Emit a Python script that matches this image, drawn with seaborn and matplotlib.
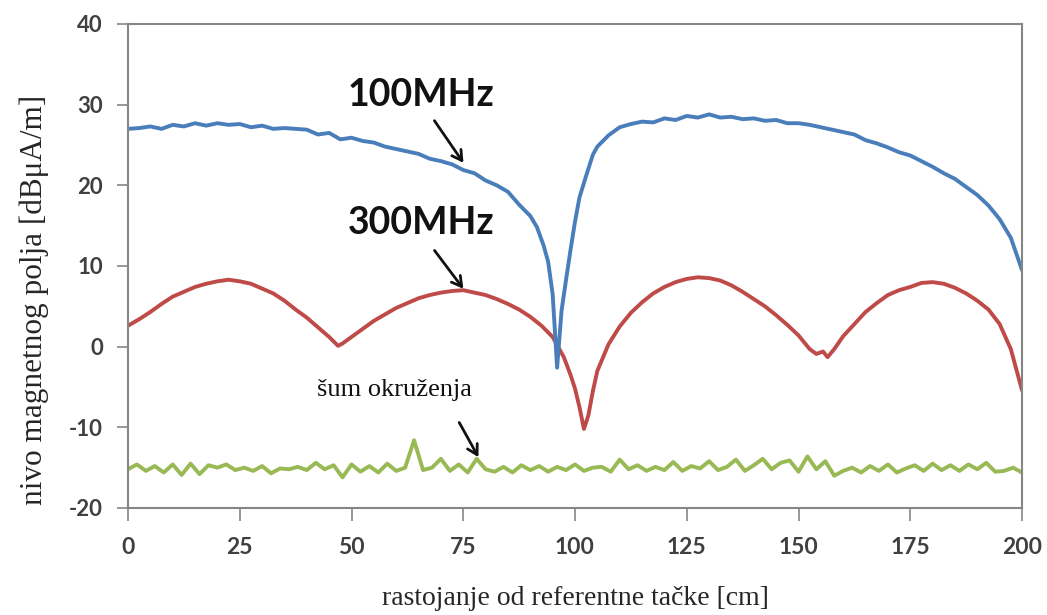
import numpy as np
import pandas as pd
import matplotlib
matplotlib.use("Agg")
import matplotlib.pyplot as plt
import seaborn as sns

# ---------------- data ----------------
blue_x = [0, 2.5, 5, 7.5, 10, 12.5, 15, 17.5, 20, 22.5, 25, 27.5, 30, 32.5, 35, 37.5, 40,
          42.5, 45, 47.5, 50, 52.5, 55, 57.5, 60, 62.5, 65, 67.5, 70, 72.5, 75, 77.5, 80,
          82.5, 85, 87.5, 90, 91.5, 93, 94, 95, 95.5, 96, 96.5, 97, 98, 99, 100, 101,
          102.5, 104, 105, 107.5, 110, 112.5, 115, 117.5, 120, 122.5, 125, 127.5, 130,
          132.5, 135, 137.5, 140, 142.5, 145, 147.5, 150, 152.5, 155, 157.5, 160, 162.5,
          165, 167.5, 170, 172.5, 175, 177.5, 180, 182.5, 185, 187.5, 190, 192.5, 195,
          197.5, 200]
blue_y = [27.0, 27.1, 27.3, 27.0, 27.5, 27.3, 27.7, 27.4, 27.7, 27.5, 27.6, 27.2, 27.4, 27.0,
          27.1, 27.0, 26.9, 26.3, 26.5, 25.7, 25.9, 25.5, 25.3, 24.8, 24.5, 24.2, 23.9, 23.3,
          23.0, 22.6, 21.9, 21.5, 20.6, 20.0, 19.2, 17.6, 16.2, 14.8, 12.5, 10.5, 6.5, 2.0,
          -2.6, 1.0, 4.5, 8.3, 12.0, 15.5, 18.5, 21.2, 23.8, 24.8, 26.2, 27.2, 27.6, 27.9,
          27.8, 28.3, 28.1, 28.6, 28.4, 28.8, 28.4, 28.5, 28.2, 28.3, 28.0, 28.1, 27.7, 27.7,
          27.5, 27.2, 26.9, 26.6, 26.3, 25.6, 25.2, 24.7, 24.1, 23.7, 23.0, 22.3, 21.5, 20.8,
          19.8, 18.8, 17.5, 15.8, 13.5, 9.5]

red_x = [0, 2.5, 5, 7.5, 10, 12.5, 15, 17.5, 20, 22.5, 25, 27.5, 30, 32.5, 35, 37.5, 40,
         42.5, 45, 47, 48, 50, 52.5, 55, 57.5, 60, 62.5, 65, 67.5, 70, 72.5, 75, 77.5, 80,
         82.5, 85, 87.5, 90, 92.5, 95, 97.5, 99, 100, 101, 102, 103, 104, 105, 107.5, 110,
         112.5, 115, 117.5, 120, 122.5, 125, 127.5, 130, 132.5, 135, 137.5, 140, 142.5, 145,
         147.5, 150, 152.5, 154, 155.5, 156.5, 158, 160, 162.5, 165, 167.5, 170, 172.5, 175,
         177.5, 180, 182.5, 185, 187.5, 190, 192.5, 195, 197.5, 200]
red_y = [2.6, 3.4, 4.3, 5.3, 6.2, 6.8, 7.4, 7.8, 8.1, 8.3, 8.1, 7.8, 7.2, 6.6, 5.7, 4.6, 3.6,
         2.4, 1.2, 0.1, 0.4, 1.2, 2.2, 3.2, 4.0, 4.8, 5.4, 6.0, 6.4, 6.7, 6.9, 7.0, 6.7, 6.4,
         5.9, 5.3, 4.6, 3.7, 2.6, 1.2, -1.3, -3.5, -5.2, -7.5, -10.2, -8.5, -5.5, -3.0, 0.3,
         2.5, 4.2, 5.5, 6.6, 7.4, 8.0, 8.4, 8.6, 8.5, 8.2, 7.6, 6.8, 5.9, 5.0, 3.9, 2.7, 1.4,
         -0.3, -0.9, -0.6, -1.3, -0.3, 1.3, 2.8, 4.3, 5.4, 6.4, 7.0, 7.4, 7.9, 8.0, 7.8, 7.3,
         6.6, 5.7, 4.6, 2.8, -0.3, -5.4]

green_x = list(range(0, 201, 2))
green_y = [-15.2, -14.6, -15.4, -14.8, -15.6, -14.6, -15.9, -14.5, -15.8, -14.7,
           -15.0, -14.6, -15.3, -15.0, -15.4, -14.8, -15.7, -15.1, -15.2, -14.9,
           -15.3, -14.4, -15.2, -14.7, -16.2, -14.6, -15.5, -14.8, -15.6, -14.5,
           -15.4, -15.0, -11.6, -15.3, -15.0, -13.9, -15.4, -14.6, -15.6, -13.9,
           -15.2, -15.5, -14.9, -15.6, -14.7, -15.3, -14.8, -15.5, -14.9, -15.3,
           -14.6, -15.4, -15.0, -14.9, -15.5, -14.0, -15.2, -14.7, -15.4, -14.9,
           -15.3, -14.3, -15.4, -14.8, -15.1, -14.2, -15.3, -14.9, -14.0, -15.4,
           -14.7, -13.9, -15.2, -14.4, -14.1, -15.5, -13.6, -15.2, -14.2, -16.0,
           -15.4, -15.0, -15.6, -14.8, -15.4, -14.6, -15.6, -15.1, -14.7, -15.4,
           -14.5, -15.3, -14.7, -15.4, -14.6, -15.2, -14.4, -15.5, -15.4, -15.0,
           -15.6]

x_ticks = [0, 25, 50, 75, 100, 125, 150, 175, 200]
y_ticks = [-20, -10, 0, 10, 20, 30, 40]
label_100 = "100MHz"
label_300 = "300MHz"
label_noise = "šum okruženja"
x_label = "rastojanje od referentne tačke [cm]"
y_label = "nivo magnetnog polja [dBμA/m]"

# ---------------- style ----------------
sns.set_style("ticks")
plt.rcParams["font.family"] = ["Lato", "DejaVu Sans"]

BLUE = "#4A7EBB"
RED = "#BE4B48"
GREEN = "#98B954"
SPINE = "#868686"

fig = plt.figure(figsize=(10.47, 6.15), dpi=100)
ax = fig.add_axes([128 / 1047, 1 - 508 / 615, (1022 - 128) / 1047, (508 - 24) / 615])

df_b = pd.DataFrame({"x": blue_x, "y": blue_y})
df_r = pd.DataFrame({"x": red_x, "y": red_y})
df_g = pd.DataFrame({"x": green_x, "y": green_y})

sns.lineplot(data=df_g, x="x", y="y", ax=ax, color=GREEN, lw=2.8, estimator=None, sort=False)
sns.lineplot(data=df_r, x="x", y="y", ax=ax, color=RED, lw=2.8, estimator=None, sort=False)
sns.lineplot(data=df_b, x="x", y="y", ax=ax, color=BLUE, lw=2.8, estimator=None, sort=False)

ax.set_xlim(0, 200)
ax.set_ylim(-20, 40)
ax.set_xticks(x_ticks)
ax.set_yticks(y_ticks)
ax.set_xticklabels([str(t) for t in x_ticks], fontsize=16.5, fontweight="bold", color="#404040")
ax.set_yticklabels([str(t) for t in y_ticks], fontsize=16, fontweight="bold", color="#404040")
ax.tick_params(axis="x", direction="out", length=9, width=1.2, color=SPINE, pad=12)
ax.tick_params(axis="y", direction="out", length=8, width=1.2, color=SPINE, pad=10)
for s in ax.spines.values():
    s.set_color(SPINE)
    s.set_linewidth(1.5)

ax.set_xlabel(x_label, family=["Liberation Serif"], fontsize=20, labelpad=20)
ax.set_ylabel(y_label, family=["Liberation Serif"], fontsize=22.5)
ax.yaxis.set_label_coords(-0.088, 0.43)

# annotations
ax.text(65.5, 31.2, label_100, fontsize=27, fontweight="bold", ha="center", va="center", color="#111111")
ax.text(65.5, 15.3, label_300, fontsize=27, fontweight="bold", ha="center", va="center", color="#111111")
ax.text(59.7, -5.4, label_noise, family=["Liberation Serif"], fontsize=19, ha="center", va="center", color="#111111")

arrow_kw = dict(arrowstyle="->,head_length=0.7,head_width=0.4", color="#111111", lw=2.0)
ax.annotate("", xy=(75.4, 22.5), xytext=(68.2, 28.3), arrowprops=arrow_kw)
ax.annotate("", xy=(75.4, 6.9), xytext=(68.2, 12.2), arrowprops=arrow_kw)
ax.annotate("", xy=(78.7, -14.0), xytext=(73.8, -9.1), arrowprops=arrow_kw)

fig.savefig("out.png", dpi=100)
